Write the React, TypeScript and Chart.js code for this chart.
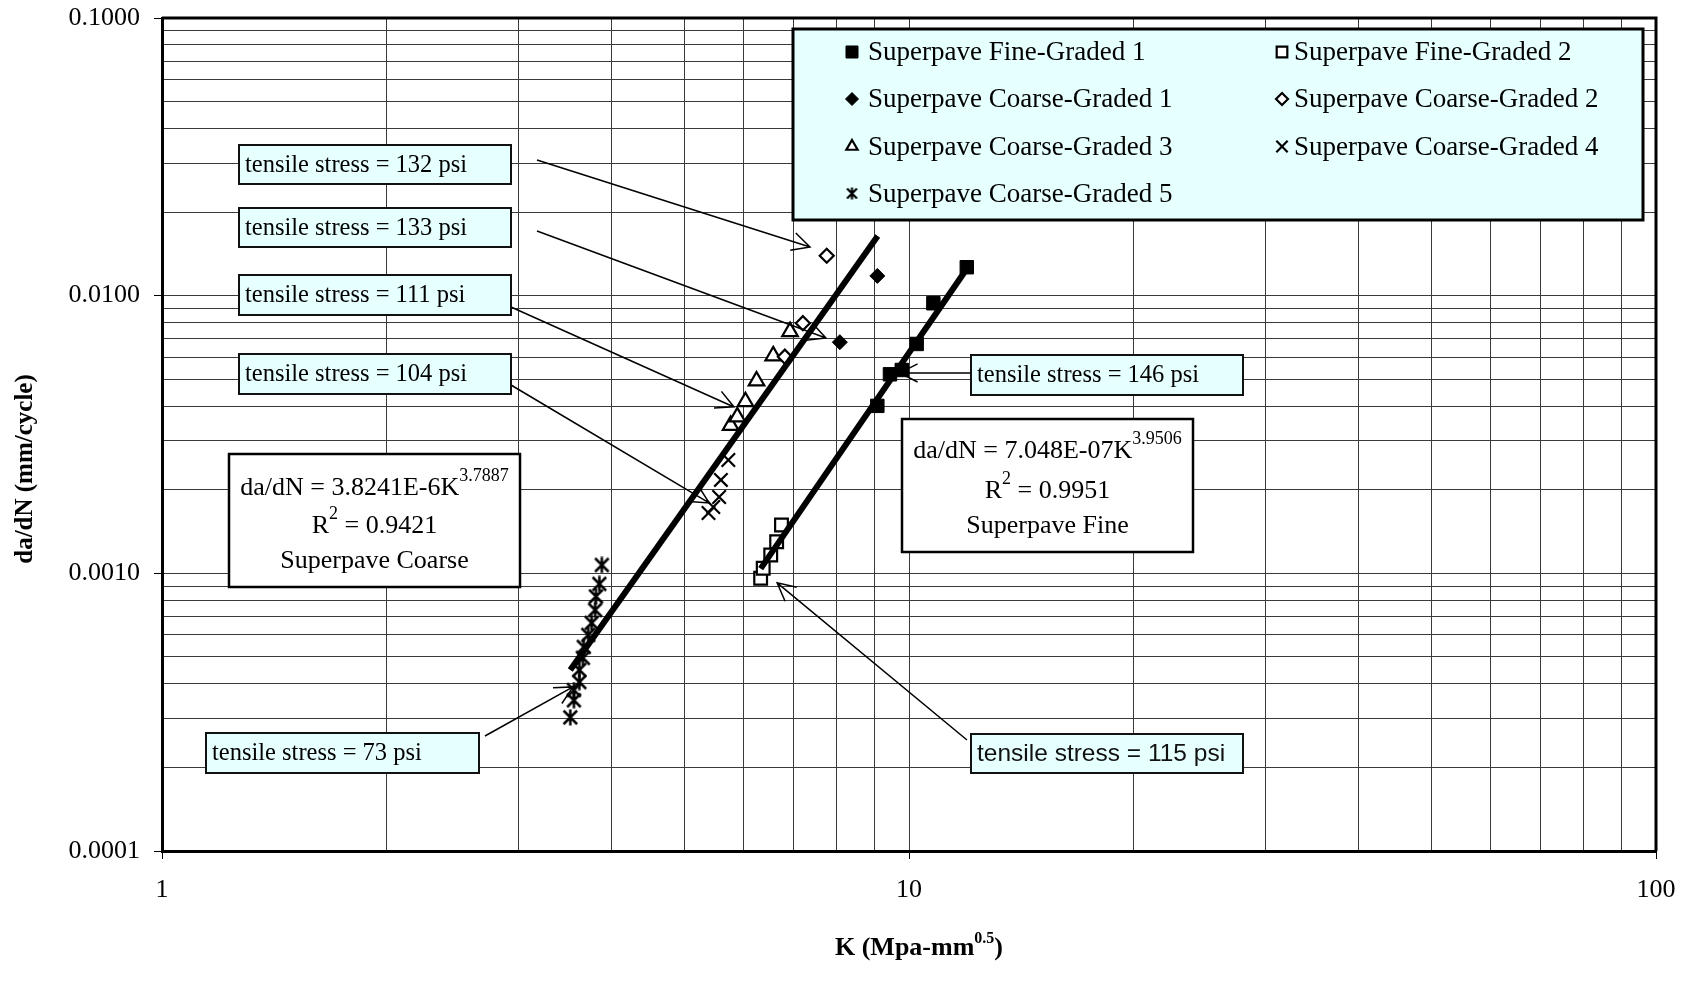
import React, { useEffect, useRef } from 'react';
import { Chart, registerables } from 'chart.js';
import { drawPoint } from 'chart.js/helpers';

Chart.register(...registerables);

const SERIF = "'Liberation Serif', 'Times New Roman', serif";
const SANS = "'Liberation Sans', Arial, sans-serif";

// ---------------- data ----------------
const fineGraded1K = [9.07, 9.43, 9.78, 10.24, 10.78, 11.95];
const fineGraded1Rate = [0.00401, 0.00521, 0.0054, 0.0067, 0.00939, 0.01266];

const fineGraded2K = [6.33, 6.38, 6.53, 6.65, 6.75];
const fineGraded2Rate = [0.00096, 0.001043, 0.001165, 0.0013, 0.001494];

const coarseGraded1K = [8.08, 9.07];
const coarseGraded1Rate = [0.0068, 0.01178];

const coarseGraded2K = [6.82, 7.21, 7.76];
const coarseGraded2Rate = [0.00603, 0.00796, 0.01393];

const coarseGraded3K = [5.77, 5.89, 6.04, 6.25, 6.58, 6.93];
const coarseGraded3Rate = [0.00341, 0.00366, 0.00415, 0.00493, 0.00607, 0.00742];

const coarseGraded4K = [5.39, 5.47, 5.57, 5.6, 5.73];
const coarseGraded4Rate = [0.00165, 0.001734, 0.001884, 0.00217, 0.00256];

const coarseGraded5K = [3.52, 3.56, 3.56, 3.62, 3.62, 3.66, 3.67, 3.72, 3.76, 3.8, 3.81, 3.85, 3.88];
const coarseGraded5Rate = [0.000303, 0.000349, 0.00038, 0.000406, 0.000449, 0.000496, 0.000543, 0.0006, 0.000663, 0.000738, 0.000826, 0.000916, 0.001072];

// trend line end points (power-law fits drawn as straight lines on log-log)
const coarseTrendK = [3.52, 9.08];
const coarseTrendRate = [0.000449, 0.0164];
const fineTrendK = [6.33, 11.95];
const fineTrendRate = [0.00104, 0.0125];

const seriesNames = [
  'Superpave Fine-Graded 1',
  'Superpave Fine-Graded 2',
  'Superpave Coarse-Graded 1',
  'Superpave Coarse-Graded 2',
  'Superpave Coarse-Graded 3',
  'Superpave Coarse-Graded 4',
  'Superpave Coarse-Graded 5',
];

// ---------------- ticks ----------------
const xGridValues = [1, 2, 3, 4, 5, 6, 7, 8, 9, 10, 20, 30, 40, 50, 60, 70, 80, 90, 100];
const xLabelValues = [1, 10, 100];
const xTickLabels = ['1', '10', '100'];

const yGridValues = [
  0.0001, 0.0002, 0.0003, 0.0004, 0.0005, 0.0006, 0.0007, 0.0008, 0.0009,
  0.001, 0.002, 0.003, 0.004, 0.005, 0.006, 0.007, 0.008, 0.009,
  0.01, 0.02, 0.03, 0.04, 0.05, 0.06, 0.07, 0.08, 0.09, 0.1,
];
const yLabelValues = [0.0001, 0.001, 0.01, 0.1];
const yTickLabels = ['0.0001', '0.0010', '0.0100', '0.1000'];

// ---------------- annotations ----------------
const stressNotes = [
  { text: 'tensile stress = 132 psi', box: [239, 145, 272, 39], from: [537, 160], tip: [7.37, 0.01497], sans: false },
  { text: 'tensile stress = 133 psi', box: [239, 208, 272, 39], from: [537, 231], tip: [7.74, 0.00704], sans: false },
  { text: 'tensile stress = 111 psi', box: [239, 275, 272, 40], from: [511, 307], tip: [5.83, 0.003974], sans: false },
  { text: 'tensile stress = 104 psi', box: [239, 354, 272, 40], from: [511, 385], tip: [5.4, 0.001793], sans: false },
  { text: 'tensile stress = 73 psi', box: [206, 733, 273, 40], from: [485, 736], tip: [3.55, 0.00039], sans: false },
  { text: 'tensile stress = 146 psi', box: [971, 355, 272, 40], from: [971, 373], tip: [9.72, 0.00527], sans: false },
  { text: 'tensile stress = 115 psi', box: [971, 734, 272, 39], from: [967, 740], tip: [6.66, 0.000924], sans: true },
];

type Part = { t: string; sup?: boolean };
const equationNotes: { box: number[]; baselines: number[]; lines: Part[][] }[] = [
  {
    box: [229, 454, 291, 133],
    baselines: [495, 533, 568],
    lines: [
      [{ t: 'da/dN = 3.8241E-6K' }, { t: '3.7887', sup: true }],
      [{ t: 'R' }, { t: '2', sup: true }, { t: ' = 0.9421' }],
      [{ t: 'Superpave Coarse' }],
    ],
  },
  {
    box: [902, 419, 291, 133],
    baselines: [458, 498, 533],
    lines: [
      [{ t: 'da/dN = 7.048E-07K' }, { t: '3.9506', sup: true }],
      [{ t: 'R' }, { t: '2', sup: true }, { t: ' = 0.9951' }],
      [{ t: 'Superpave Fine' }],
    ],
  },
];

const isIn = (v: number, arr: number[]) => arr.some((a) => Math.abs(v / a - 1) < 1e-6);
const labelFor = (v: number, vals: number[], labels: string[]) => {
  const i = vals.findIndex((a) => Math.abs(v / a - 1) < 1e-6);
  return i >= 0 ? labels[i] : '';
};

function makeAsterisk(size: number, lw: number) {
  const c = document.createElement('canvas');
  c.width = size;
  c.height = size;
  const g = c.getContext('2d')!;
  g.strokeStyle = '#000';
  g.lineWidth = lw;
  const m = lw * 0.7;
  g.beginPath();
  g.moveTo(m, m);
  g.lineTo(size - m, size - m);
  g.moveTo(size - m, m);
  g.lineTo(m, size - m);
  g.moveTo(size / 2, 0.5);
  g.lineTo(size / 2, size - 0.5);
  g.stroke();
  return c;
}

function drawRich(ctx: CanvasRenderingContext2D, parts: Part[], cx: number, baseline: number, font: string, supFont: string, rise: number) {
  ctx.textAlign = 'left';
  ctx.textBaseline = 'alphabetic';
  let total = 0;
  const widths = parts.map((p) => {
    ctx.font = p.sup ? supFont : font;
    const w = ctx.measureText(p.t).width;
    total += w;
    return w;
  });
  let x = cx - total / 2;
  parts.forEach((p, i) => {
    ctx.font = p.sup ? supFont : font;
    ctx.fillText(p.t, x, p.sup ? baseline - rise : baseline);
    x += widths[i];
  });
}

function drawArrow(ctx: CanvasRenderingContext2D, x0: number, y0: number, x1: number, y1: number) {
  const ang = Math.atan2(y1 - y0, x1 - x0);
  const len = 20;
  const spread = (27 * Math.PI) / 180;
  ctx.beginPath();
  ctx.moveTo(x0, y0);
  ctx.lineTo(x1, y1);
  ctx.moveTo(x1 - len * Math.cos(ang - spread), y1 - len * Math.sin(ang - spread));
  ctx.lineTo(x1, y1);
  ctx.lineTo(x1 - len * Math.cos(ang + spread), y1 - len * Math.sin(ang + spread));
  ctx.stroke();
}

export default function App() {
  const ref = useRef<HTMLCanvasElement | null>(null);

  useEffect(() => {
    const canvas = ref.current;
    if (!canvas) return;
    const asteriskBig = makeAsterisk(17, 2.5);
    const asteriskSmall = makeAsterisk(13, 2.2);

    const pts = (xs: number[], ys: number[]) => xs.map((x, i) => ({ x, y: ys[i] }));

    const markerStyles = [
      { pointStyle: 'rect', radius: 9.5, bg: '#000', bw: 1, lr: 8.5 },
      { pointStyle: 'rect', radius: 9, bg: '#fff', bw: 2.2, lr: 7.5 },
      { pointStyle: 'rectRot', radius: 7.5, bg: '#000', bw: 1, lr: 6.5 },
      { pointStyle: 'rectRot', radius: 7, bg: '#fff', bw: 2.2, lr: 6 },
      { pointStyle: 'triangle', radius: 9, bg: '#fff', bw: 2.2, lr: 6.5 },
      { pointStyle: 'crossRot', radius: 9.5, bg: '#000', bw: 2.2, lr: 8 },
      { pointStyle: 'asterisk', radius: 8, bg: '#000', bw: 2, lr: 6 },
    ];
    const seriesData = [
      pts(fineGraded1K, fineGraded1Rate),
      pts(fineGraded2K, fineGraded2Rate),
      pts(coarseGraded1K, coarseGraded1Rate),
      pts(coarseGraded2K, coarseGraded2Rate),
      pts(coarseGraded3K, coarseGraded3Rate),
      pts(coarseGraded4K, coarseGraded4Rate),
      pts(coarseGraded5K, coarseGraded5Rate),
    ];

    const pointDatasets: any[] = seriesData.map((data, i) => {
      const m = markerStyles[i];
      return {
        label: seriesNames[i],
        data,
        showLine: false,
        pointStyle: m.pointStyle === 'asterisk' ? asteriskBig : m.pointStyle,
        pointRadius: m.radius,
        pointBackgroundColor: m.bg,
        pointBorderColor: '#000',
        pointBorderWidth: m.bw,
        order: 2,
      };
    });

    const trendDatasets: any[] = [
      { label: 'Coarse trend', data: pts(coarseTrendK, coarseTrendRate) },
      { label: 'Fine trend', data: pts(fineTrendK, fineTrendRate) },
    ].map((d) => ({
      ...d,
      showLine: true,
      pointRadius: 0,
      borderColor: '#000',
      borderWidth: 6,
      order: 0,
    }));

    const overlay = {
      id: 'overlay',
      afterDraw(chart: any) {
        const ctx: CanvasRenderingContext2D = chart.ctx;
        const { left, top, right, bottom } = chart.chartArea;
        const xs = chart.scales.x;
        const ys = chart.scales.y;
        ctx.save();

        // frame top/right
        ctx.strokeStyle = '#000';
        ctx.lineWidth = 3;
        ctx.beginPath();
        ctx.moveTo(left, top);
        ctx.lineTo(right, top);
        ctx.lineTo(right, bottom);
        ctx.stroke();

        // arrows
        ctx.lineWidth = 1.5;
        ctx.strokeStyle = '#000';
        stressNotes.forEach((n) => {
          const tx = xs.getPixelForValue(n.tip[0]);
          const ty = ys.getPixelForValue(n.tip[1]);
          drawArrow(ctx, n.from[0], n.from[1], tx, ty);
        });

        // stress boxes
        stressNotes.forEach((n) => {
          const [bx, by, bw, bh] = n.box;
          ctx.fillStyle = '#E6FFFF';
          ctx.fillRect(bx, by, bw, bh);
          ctx.lineWidth = 2;
          ctx.strokeStyle = '#111';
          ctx.strokeRect(bx, by, bw, bh);
          ctx.fillStyle = n.sans ? '#111' : '#000';
          ctx.font = n.sans ? `24.5px ${SANS}` : `24.5px ${SERIF}`;
          ctx.textAlign = 'left';
          ctx.textBaseline = 'middle';
          ctx.fillText(n.text, bx + 6, by + bh / 2 + 1);
        });

        // equation boxes
        equationNotes.forEach((e) => {
          const [bx, by, bw, bh] = e.box;
          ctx.fillStyle = '#fff';
          ctx.fillRect(bx, by, bw, bh);
          ctx.lineWidth = 2.5;
          ctx.strokeStyle = '#000';
          ctx.strokeRect(bx, by, bw, bh);
          ctx.fillStyle = '#000';
          e.lines.forEach((ln, i) => {
            drawRich(ctx, ln, bx + bw / 2, e.baselines[i], `26px ${SERIF}`, `18px ${SERIF}`, 14);
          });
        });

        // legend
        const L = [793, 29, 850, 191];
        ctx.fillStyle = '#E6FFFF';
        ctx.fillRect(L[0], L[1], L[2], L[3]);
        ctx.lineWidth = 3;
        ctx.strokeStyle = '#000';
        ctx.strokeRect(L[0], L[1], L[2], L[3]);
        const colMarker = [852, 1282];
        const colText = [868, 1294];
        const rows = [52, 99, 146.5, 193.5];
        seriesNames.forEach((name, i) => {
          const col = i === 6 ? 0 : i % 2;
          const row = Math.floor(i / 2);
          const m = markerStyles[i];
          const my = rows[row];
          ctx.fillStyle = m.bg;
          ctx.strokeStyle = '#000';
          ctx.lineWidth = m.bw;
          drawPoint(
            ctx,
            {
              pointStyle: m.pointStyle === 'asterisk' ? asteriskSmall : m.pointStyle,
              radius: m.lr,
              rotation: 0,
              borderWidth: m.bw,
            } as any,
            colMarker[col],
            my
          );
          ctx.fillStyle = '#000';
          ctx.font = `27px ${SERIF}`;
          ctx.textAlign = 'left';
          ctx.textBaseline = 'middle';
          ctx.fillText(name, colText[col], my + 1);
        });

        // axis titles
        ctx.fillStyle = '#000';
        ctx.save();
        ctx.translate(26, 469);
        ctx.rotate(-Math.PI / 2);
        ctx.font = `bold 25px ${SERIF}`;
        ctx.textAlign = 'center';
        ctx.textBaseline = 'middle';
        ctx.fillText('da/dN (mm/cycle)', 0, 0);
        ctx.restore();
        drawRich(
          ctx,
          [{ t: 'K (Mpa-mm' }, { t: '0.5', sup: true }, { t: ')' }],
          919,
          955,
          `bold 26px ${SERIF}`,
          `bold 16px ${SERIF}`,
          12
        );

        ctx.restore();
      },
    };

    const gridColor = '#3a3a3a';
    const chart = new Chart(canvas, {
      type: 'scatter',
      data: { datasets: [...trendDatasets, ...pointDatasets] },
      options: {
        animation: false,
        responsive: false,
        devicePixelRatio: 1,
        layout: { padding: { left: 0, right: 35, top: 18, bottom: 0 } },
        plugins: { legend: { display: false }, tooltip: { enabled: false } },
        scales: {
          x: {
            type: 'logarithmic',
            min: 1,
            max: 100,
            afterBuildTicks: (s: any) => {
              s.ticks = xGridValues.map((v) => ({ value: v }));
            },
            afterFit: (s: any) => {
              s.height = 141;
              s.paddingLeft = 0;
              s.paddingRight = 0;
              s.paddingTop = 0;
              s.paddingBottom = 0;
            },
            ticks: {
              autoSkip: false,
              maxRotation: 0,
              minRotation: 0,
              padding: 16,
              color: '#000',
              font: { family: SERIF, size: 26 },
              callback: (v: any) => labelFor(Number(v), xLabelValues, xTickLabels),
            },
            grid: {
              color: gridColor,
              lineWidth: 1,
              tickLength: 8,
              tickColor: (c: any) => (c.tick && isIn(c.tick.value, xLabelValues) ? '#000' : 'rgba(0,0,0,0)'),
            },
            border: { display: true, color: '#000', width: 3 },
          },
          y: {
            type: 'logarithmic',
            min: 0.0001,
            max: 0.1,
            afterBuildTicks: (s: any) => {
              s.ticks = yGridValues.map((v) => ({ value: v }));
            },
            afterFit: (s: any) => {
              s.width = 162;
              s.paddingTop = 0;
              s.paddingBottom = 0;
              s.paddingLeft = 0;
              s.paddingRight = 0;
            },
            ticks: {
              autoSkip: false,
              padding: 14,
              color: '#000',
              font: { family: SERIF, size: 26 },
              callback: (v: any) => labelFor(Number(v), yLabelValues, yTickLabels),
            },
            grid: {
              color: gridColor,
              lineWidth: 1,
              tickLength: 8,
              tickColor: (c: any) => (c.tick && isIn(c.tick.value, yLabelValues) ? '#000' : 'rgba(0,0,0,0)'),
            },
            border: { display: true, color: '#000', width: 3 },
          },
        },
      } as any,
      plugins: [overlay],
    });

    return () => chart.destroy();
  }, []);

  return (
    <div style={{ position: 'absolute', left: 0, top: 0, width: 1691, height: 992, background: '#fff' }}>
      <canvas ref={ref} width={1691} height={992} style={{ display: 'block', width: 1691, height: 992 }} />
    </div>
  );
}
